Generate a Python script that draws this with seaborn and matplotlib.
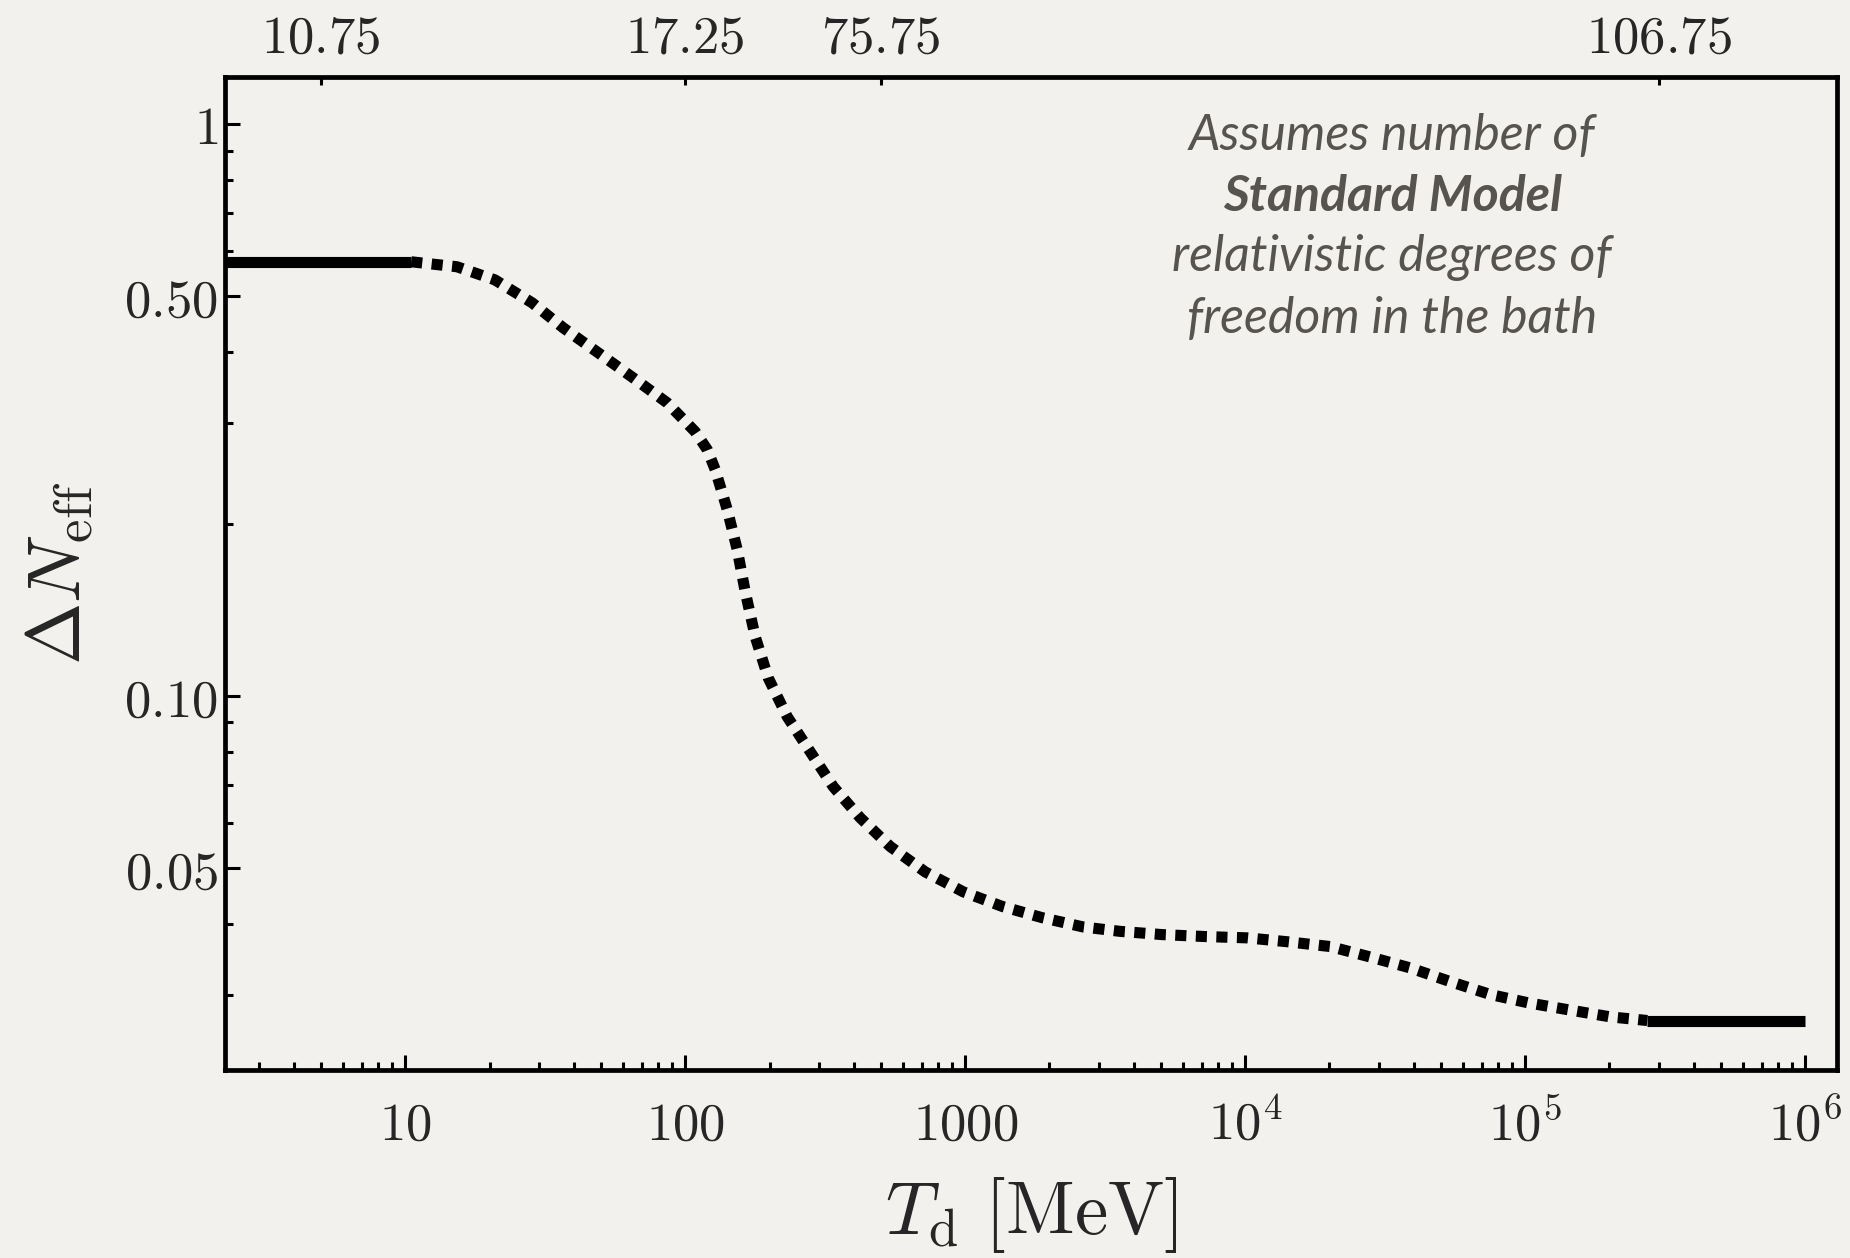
import matplotlib
matplotlib.use("Agg")
import matplotlib.pyplot as plt
import seaborn as sns
from matplotlib.ticker import FixedLocator, FixedFormatter, NullLocator, NullFormatter

# Delta N_eff versus decoupling temperature T_d [MeV]
temp_low = [2.27, 10.5]
dneff_low = [0.575, 0.575]

temp_mid = [10.5, 15.3, 20.9, 28.4, 36.7, 48.9, 65.2, 86.2, 108.6, 119.9,
            128.0, 141.3, 153.4, 163.8, 177.8, 197.8, 231.3, 279.4, 337.7,
            421.7, 539.8, 719.4, 983.9, 1356, 1883, 2637, 3579, 5057, 7195,
            10164, 14256, 20137, 27950, 38800, 53950, 74960, 102500, 142500,
            201400, 273000]
dneff_mid = [0.575, 0.5636, 0.5346, 0.4874, 0.4406, 0.3986, 0.3603, 0.3259,
             0.2900, 0.2698, 0.2489, 0.2119, 0.1803, 0.1523, 0.1271, 0.1077,
             0.0921, 0.0800, 0.0695, 0.0613, 0.0546, 0.0493, 0.0455, 0.0429,
             0.0410, 0.0395, 0.0388, 0.0383, 0.0380, 0.0378, 0.0372, 0.0365,
             0.0350, 0.0335, 0.0317, 0.0301, 0.0291, 0.0283, 0.0275, 0.0271]

temp_high = [273000, 1.0e6]
dneff_high = [0.0271, 0.0271]

# g_* values marked along the top edge
top_tick_temps = [5, 100, 500, 3e5]
top_tick_labels = ["10.75", "17.25", "75.75", "106.75"]

bottom_tick_temps = [10, 100, 1000, 1e4, 1e5, 1e6]
bottom_tick_labels = [r"$10$", r"$100$", r"$1000$", r"$10^{4}$", r"$10^{5}$", r"$10^{6}$"]
bottom_minor = [m * 10 ** e for e in range(0, 6) for m in range(2, 10)]

left_tick_vals = [0.05, 0.10, 0.50, 1.0]
left_tick_labels = [r"$0.05$", r"$0.10$", r"$0.50$", r"$1$"]
left_minor = [0.03, 0.04, 0.06, 0.07, 0.08, 0.09, 0.2, 0.3, 0.4, 0.6, 0.7, 0.8, 0.9]

note_lines = ["Assumes number of", "Standard Model", "relativistic degrees of", "freedom in the bath"]

BG = "#f2f1ed"

sns.set_style("ticks")
plt.rcParams["mathtext.fontset"] = "cm"
plt.rcParams["font.family"] = ["DejaVu Serif"]

fig = plt.figure(figsize=(18.5, 12.58), dpi=100, facecolor=BG)
ax = fig.add_axes([0.1216, 0.1494, 0.8714, 0.7894])
ax.set_facecolor(BG)
ax.set_xscale("log")
ax.set_yscale("log")

lw = 8.0
sns.lineplot(x=temp_low, y=dneff_low, ax=ax, color="black", linewidth=lw,
             solid_capstyle="butt")
sns.lineplot(x=temp_mid, y=dneff_mid, ax=ax, color="black", linewidth=lw,
             linestyle=(0, (1.0, 0.85)), dash_capstyle="butt")
sns.lineplot(x=temp_high, y=dneff_high, ax=ax, color="black", linewidth=lw,
             solid_capstyle="butt")

ax.set_xlim(2.27, 1.30e6)
ax.set_ylim(0.0222, 1.21)

for s in ax.spines.values():
    s.set_visible(True)
    s.set_linewidth(3.4)
    s.set_color("black")

ax.xaxis.set_major_locator(FixedLocator(bottom_tick_temps))
ax.xaxis.set_major_formatter(FixedFormatter(bottom_tick_labels))
ax.xaxis.set_minor_locator(FixedLocator(bottom_minor))
ax.xaxis.set_minor_formatter(NullFormatter())
ax.yaxis.set_major_locator(FixedLocator(left_tick_vals))
ax.yaxis.set_major_formatter(FixedFormatter(left_tick_labels))
ax.yaxis.set_minor_locator(FixedLocator(left_minor))
ax.yaxis.set_minor_formatter(NullFormatter())

ax.tick_params(which="both", direction="in", top=False, right=False,
               color="black", width=2.2)
ax.tick_params(which="major", length=11)
ax.tick_params(which="minor", length=6)
ax.tick_params(axis="x", which="major", labelsize=38, pad=21)
ax.tick_params(axis="y", which="major", labelsize=38, pad=5)

ax.set_xlabel(r"$T_{\mathrm{d}}\ [\mathrm{MeV}]$", fontsize=54, labelpad=17)
ax.set_ylabel(r"$\Delta N_{\mathrm{eff}}$", fontsize=54, labelpad=20)

ax2 = ax.twiny()
ax2.set_xscale("log")
ax2.set_xlim(ax.get_xlim())
ax2.xaxis.set_major_locator(FixedLocator(top_tick_temps))
ax2.xaxis.set_major_formatter(FixedFormatter([f"${t}$" for t in top_tick_labels]))
ax2.xaxis.set_minor_locator(NullLocator())
ax2.tick_params(axis="x", which="major", direction="in", length=6, width=2.2,
                labelsize=38, pad=10, color="black")
for s in ax2.spines.values():
    s.set_visible(False)

note_x = 0.724
note_y = [0.941, 0.880, 0.818, 0.756]
for i, (line, yy) in enumerate(zip(note_lines, note_y)):
    ax.text(note_x, yy, line, transform=ax.transAxes, ha="center", va="center",
            fontsize=36, family="Lato", style="italic",
            fontweight="bold" if i == 1 else "normal", color="#57544f")

fig.savefig("out.png", dpi=100, facecolor=BG)
